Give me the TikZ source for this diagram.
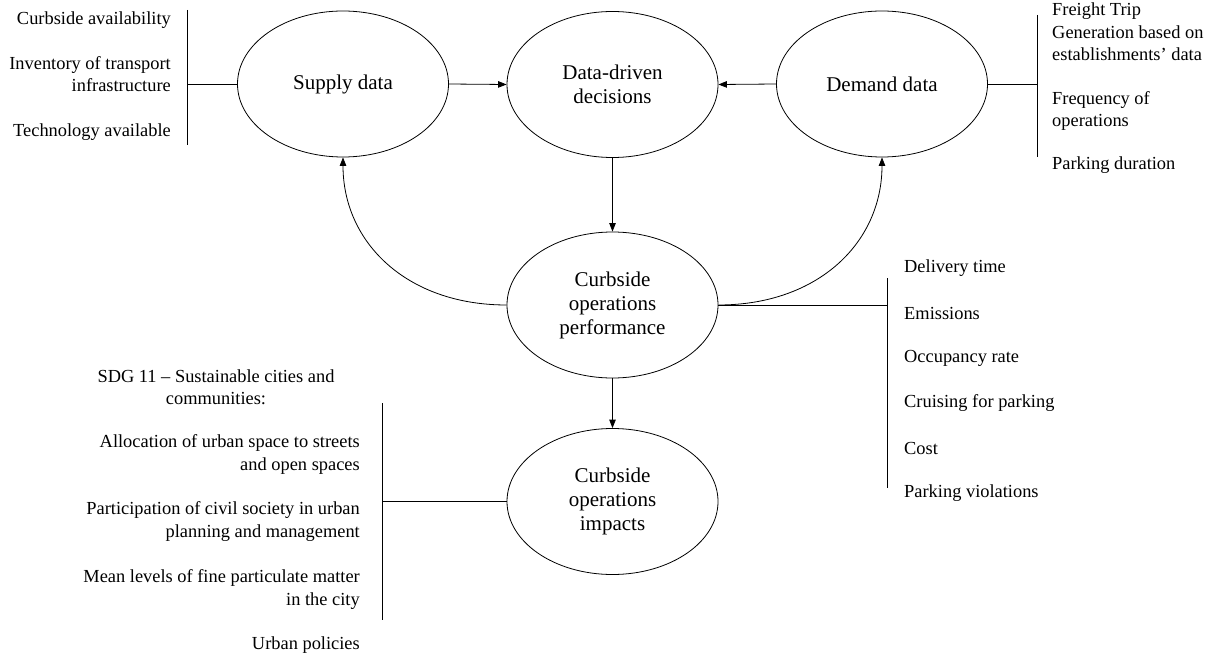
\documentclass[tikz,border=0pt]{standalone}
\usepackage{fontspec}
\setmainfont{Liberation Serif}
\usetikzlibrary{shapes.geometric,arrows.meta}

\tikzset{
  oval/.style={draw, ellipse, line width=0.8pt, minimum width=211pt, minimum height=146pt,
    inner sep=0pt, align=center, font=\fontsize{21}{24}\selectfont},
  item/.style={inner sep=0pt, font=\fontsize{18.4}{22.5}\selectfont},
  itemL/.style={item, anchor=east, align=right},
  itemR/.style={item, anchor=west, align=left},
  link/.style={line width=0.8pt},
  arrow/.style={link, -{Triangle[length=8.5pt,width=6.5pt]}}
}

\begin{document}
\begin{tikzpicture}[x=1pt,y=-1pt]
\useasboundingbox (0,0) rectangle (1212,655);

% main ovals
\node[oval] (supply) at (343,84) {Supply data};
\node[oval] (ddd) at (612.5,84.5) {Data-driven\\decisions};
\node[oval] (demand) at (882,84) {Demand data};
\node[oval] (perf) at (612.5,305) {Curbside\\operations\\performance};
\node[oval] (impact) at (612.5,501.5) {Curbside\\operations\\impacts};

% arrows between ovals
\draw[arrow] (supply.east) -- (ddd.west);
\draw[arrow] (demand.west) -- (ddd.east);
\draw[arrow] (ddd.south) -- (perf.north);
\draw[arrow] (perf.south) -- (impact.north);
\draw[arrow] (perf.west) .. controls +(-100,0) and +(0,85) .. (supply.south);
\draw[arrow] (perf.east) .. controls +(100,0) and +(0,85) .. (demand.south);

% supply data items
\coordinate (sTop) at (187,10);
\coordinate (sBot) at (187,145);
\coordinate (sMid) at (187,84);
\draw[link] (sTop) -- (sBot);
\draw[link] (supply.west) -- (sMid);
\node[itemL] (s1) at (171,20) {Curbside availability};
\node[itemL] (s2) at (171,74) {Inventory of transport\\infrastructure};
\node[itemL] (s3) at (171,132) {Technology available};

% demand data items
\coordinate (dTop) at (1037,15);
\coordinate (dBot) at (1037,157);
\coordinate (dMid) at (1037,84);
\draw[link] (dTop) -- (dBot);
\draw[link] (demand.east) -- (dMid);
\node[itemR] (d1) at (1052,32) {Freight Trip\\Generation based on\\establishments’ data};
\node[itemR] (d2) at (1052,111) {Frequency of\\operations};
\node[itemR] (d3) at (1052,165) {Parking duration};

% performance items
\coordinate (pTop) at (887,278);
\coordinate (pBot) at (887,488);
\coordinate (pMid) at (887,305);
\draw[link] (pTop) -- (pBot);
\draw[link] (perf.east) -- (pMid);
\node[itemR] (p1) at (904,268) {Delivery time};
\node[itemR] (p2) at (904,313) {Emissions};
\node[itemR] (p3) at (904,358) {Occupancy rate};
\node[itemR] (p4) at (904,403) {Cruising for parking};
\node[itemR] (p5) at (904,448) {Cost};
\node[itemR] (p6) at (904,493) {Parking violations};

% impact items
\coordinate (iTop) at (382,403);
\coordinate (iBot) at (382,620);
\coordinate (iMid) at (382,501.5);
\draw[link] (iTop) -- (iBot);
\draw[link] (impact.west) -- (iMid);
\node[item, align=center] (i0) at (216,387) {SDG 11 – Sustainable cities and\\communities:};
\node[itemL] (i1) at (360,454.5) {Allocation of urban space to streets\\and open spaces};
\node[itemL] (i2) at (360,521.5) {Participation of civil society in urban\\planning and management};
\node[itemL] (i3) at (360,589.5) {Mean levels of fine particulate matter\\in the city};
\node[itemL] (i4) at (360,645) {Urban policies};
\end{tikzpicture}
\end{document}
